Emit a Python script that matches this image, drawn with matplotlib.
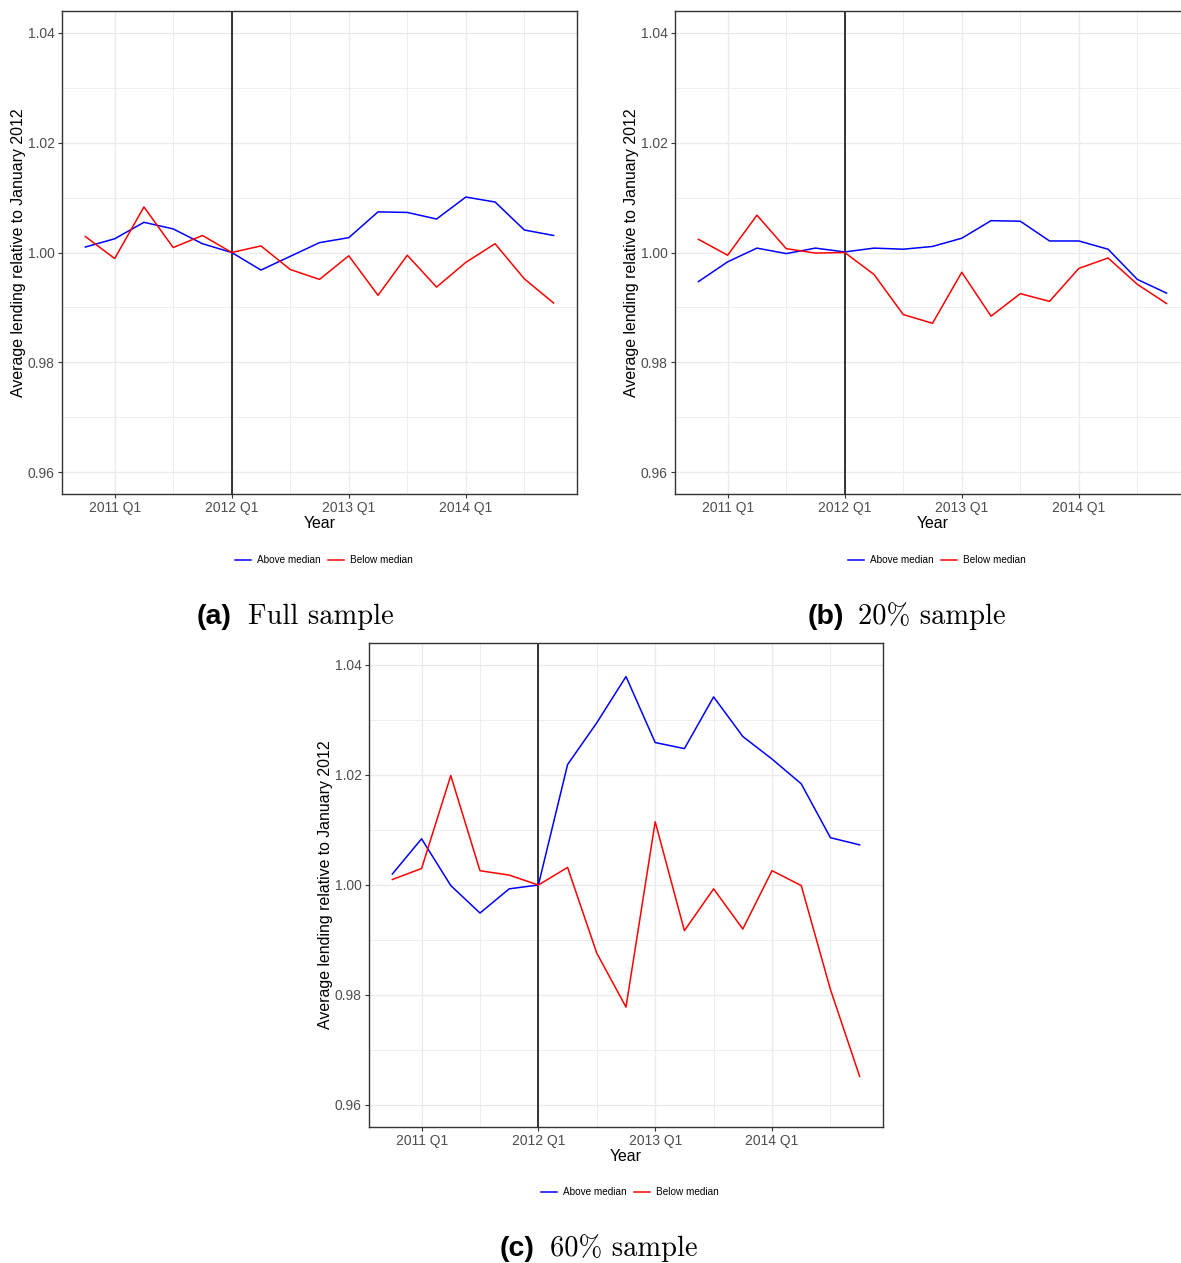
import matplotlib
matplotlib.use('Agg')
import matplotlib.pyplot as plt
from matplotlib.ticker import FixedLocator

# quarters 2010 Q4 .. 2014 Q4 (index 0..16)
quarter_idx = list(range(17))
year_ticks = [1, 5, 9, 13]
year_labels = ['2011 Q1', '2012 Q1', '2013 Q1', '2014 Q1']
minor_ticks = [3, 7, 11, 15]
break_q = 5  # 2012 Q1

# (a) full sample
full_above = [1.0010, 1.0025, 1.0055, 1.0043, 1.0016, 1.0000, 0.9968, 0.9993, 1.0018,
              1.0027, 1.0074, 1.0073, 1.0061, 1.0101, 1.0092, 1.0041, 1.0031]
full_below = [1.0029, 0.9989, 1.0083, 1.0009, 1.0031, 1.0000, 1.0012, 0.9969, 0.9951,
              0.9994, 0.9922, 0.9995, 0.9937, 0.9982, 1.0016, 0.9952, 0.9908]

# (b) 20% sample
s20_above = [0.9947, 0.9983, 1.0008, 0.9998, 1.0008, 1.0001, 1.0008, 1.0006, 1.0011,
             1.0026, 1.0058, 1.0057, 1.0021, 1.0021, 1.0006, 0.9951, 0.9926]
s20_below = [1.0024, 0.9995, 1.0068, 1.0007, 0.9999, 1.0000, 0.9960, 0.9887, 0.9871,
             0.9964, 0.9884, 0.9925, 0.9911, 0.9971, 0.9990, 0.9942, 0.9907]

# (c) 60% sample
s60_above = [1.0020, 1.0084, 0.9999, 0.9949, 0.9993, 1.0000, 1.0219, 1.0295, 1.0379,
             1.0259, 1.0248, 1.0342, 1.0270, 1.0229, 1.0184, 1.0086, 1.0073]
s60_below = [1.0010, 1.0030, 1.0199, 1.0026, 1.0018, 1.0000, 1.0032, 0.9876, 0.9778,
             1.0115, 0.9917, 0.9993, 0.9920, 1.0026, 0.9999, 0.9810, 0.9652]

y_ticks = [0.96, 0.98, 1.00, 1.02, 1.04]
y_minor = [0.97, 0.99, 1.01, 1.03]

W, H = 1181, 1263
fig = plt.figure(figsize=(W / 100, H / 100), dpi=100)

tick_font = 'Liberation Sans'
grid_col = '#EBEBEB'
dark = '#333333'


def panel(l, t, r, b, above, below, legend_xy, cap_xy, cap_letter, cap_text, cap_gap):
    ax = fig.add_axes([l / W, 1 - b / H, (r - l) / W, (b - t) / H])
    ax.set_xlim(-0.8, 16.8)
    ax.set_ylim(0.956, 1.044)
    ax.xaxis.set_major_locator(FixedLocator(year_ticks))
    ax.xaxis.set_minor_locator(FixedLocator(minor_ticks))
    ax.yaxis.set_major_locator(FixedLocator(y_ticks))
    ax.yaxis.set_minor_locator(FixedLocator(y_minor))
    ax.set_xticklabels(year_labels)
    ax.set_yticklabels(['%.2f' % v for v in y_ticks])
    ax.grid(True, which='major', color=grid_col, lw=1.0, zorder=0)
    ax.grid(True, which='minor', color=grid_col, lw=0.6, zorder=0)
    ax.set_axisbelow(True)
    ax.tick_params(which='major', length=3.2, width=0.8, color=dark, labelcolor='#4D4D4D',
                   labelsize=10, pad=2)
    ax.tick_params(which='minor', length=0)
    for lab in ax.get_xticklabels() + ax.get_yticklabels():
        lab.set_fontfamily(tick_font)
    for s in ax.spines.values():
        s.set_color(dark)
        s.set_linewidth(1.0)

    ax.axvline(break_q, color='black', lw=1.1, zorder=2)
    h1, = ax.plot(quarter_idx, above, color='#0000FF', lw=1.1, label='Above median', zorder=3)
    h2, = ax.plot(quarter_idx, below, color='#FF0000', lw=1.1, label='Below median', zorder=3)

    ax.set_xlabel('Year', fontsize=11.4, fontfamily=tick_font, labelpad=0.5)
    ax.set_ylabel('Average lending relative to January 2012', fontsize=11.4,
                  fontfamily=tick_font, labelpad=1)

    fig.legend(handles=[h1, h2], loc='center', ncol=2, frameon=False,
               bbox_to_anchor=(legend_xy[0] / W, 1 - legend_xy[1] / H),
               prop={'family': tick_font, 'size': 7.2},
               handlelength=1.6, handletextpad=0.6, columnspacing=0.8)

    fig.text(cap_xy[0] / W, 1 - cap_xy[1] / H, cap_letter, fontsize=20.5,
             fontweight='bold', fontfamily=tick_font, va='baseline', ha='left')
    fig.text((cap_xy[0] + cap_gap) / W, 1 - cap_xy[1] / H, cap_text, fontsize=20.5,
             fontfamily=['cmr10', 'DejaVu Serif'], va='baseline', ha='left')
    return ax


panel(62, 11, 577, 494, full_above, full_below, (324, 560), (197, 624), '(a)', 'Full sample', 51)
panel(675, 11, 1190, 494, s20_above, s20_below, (937, 560), (808, 624), '(b)', '20% sample', 50)
panel(369, 643, 883, 1127, s60_above, s60_below, (630, 1192), (500, 1256), '(c)', '60% sample', 50)

fig.savefig('out.png', dpi=100)
